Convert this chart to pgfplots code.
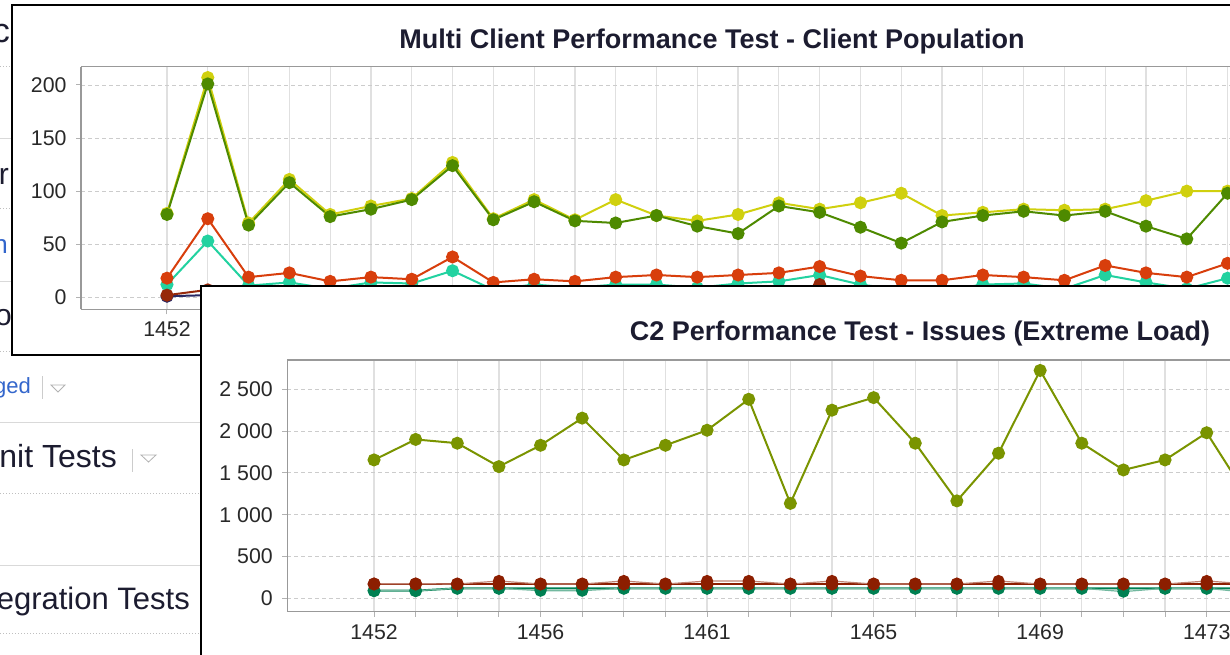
\documentclass[border=0pt]{standalone}
\usepackage{pgfplots}
\pgfplotsset{compat=1.18}
\usepackage{fontspec}
\setmainfont{Liberation Sans}
\definecolor{cyel}{RGB}{208,208,14}
\definecolor{cgrn}{RGB}{78,138,0}
\definecolor{cred}{RGB}{216,62,12}
\definecolor{ctur}{RGB}{34,210,160}
\definecolor{cdrd}{RGB}{150,40,10}
\definecolor{cnav}{RGB}{40,40,100}
\definecolor{coli}{RGB}{122,148,0}
\definecolor{cbrd}{RGB}{140,30,0}
\definecolor{ctea}{RGB}{0,128,82}
\definecolor{ctitle}{RGB}{28,28,48}
\definecolor{clink}{RGB}{51,102,204}
\definecolor{ctick}{RGB}{40,40,40}
\pgfplotsset{
  winaxis/.style={
    anchor=south west, scale only axis,
    axis x line*=box, axis y line*=left,
    axis line style={draw=black!40, line width=1.2pt, -},
    tick align=outside, major tick length=5pt,
    xtick pos=bottom, ytick pos=left,
    tick style={draw=black!30, line width=1pt},
    xmajorgrids, ymajorgrids,
    x grid style={draw=black!12, line width=1.2pt},
    y grid style={draw=black!20, line width=0.9pt, dash pattern=on 4pt off 3pt},
    tick label style={font=\fontsize{21.3}{24}\selectfont, text=ctick},
    xticklabel style={yshift=-4pt},
    yticklabel style={xshift=-6pt},
    every axis plot/.append style={line width=2pt, mark=*, mark size=5.5pt, mark options={solid}},
  }
}
\begin{document}
\begin{tikzpicture}[x=1pt,y=1pt]
\path[use as bounding box] (0,0) rectangle (1230,655);
\clip (0,0) rectangle (1230,655);
\fill[white] (0,0) rectangle (1230,655);
% background page fragments
\begin{scope}[line width=1pt]
\draw[black!25, dotted] (0,588) -- (12,588);
\draw[black!15] (0,516) -- (12,516);
\draw[black!25, dotted] (0,446) -- (12,446);
\draw[black!15] (0,373) -- (12,373);
\draw[black!25, dotted] (0,303) -- (201,303);
\draw[black!15] (0,232) -- (201,232);
\draw[black!25, dotted] (0,161) -- (201,161);
\draw[black!15] (0,89) -- (201,89);
\draw[black!25, dotted] (0,21) -- (201,21);
\end{scope}
\node[overlay, anchor=base east, inner sep=0pt, font=\fontsize{34}{40}\selectfont, text=ctitle] at (10,612) {c};
\node[overlay, anchor=base east, inner sep=0pt, font=\fontsize{30}{36}\selectfont, text=ctitle] at (9,470) {r};
\node[overlay, anchor=base east, inner sep=0pt, font=\fontsize{26}{30}\selectfont, text=clink] at (8,401) {n};
\node[overlay, anchor=base east, inner sep=0pt, font=\fontsize{30}{36}\selectfont, text=ctitle] at (12,329) {o};
\node[overlay, anchor=base east, inner sep=0pt, font=\fontsize{22}{26}\selectfont, text=clink] at (31,261) {ged};
\draw[black!20, line width=1pt] (42,256) -- (42,279);
\draw[black!30, line width=0.8pt] (51,270) -- (65,270) -- (58,263) -- cycle;
\node[overlay, anchor=base east, inner sep=0pt, font=\fontsize{32}{38}\selectfont, text=ctitle] at (117,187) {nit Tests};
\draw[black!20, line width=1pt] (132,183) -- (132,206);
\draw[black!30, line width=0.8pt] (141,200) -- (156,200) -- (148.5,193) -- cycle;
\node[overlay, anchor=base east, inner sep=0pt, font=\fontsize{31}{36}\selectfont, text=ctitle] at (190,45) {egration Tests};
% ---------------- top window ----------------
\fill[white] (12,300) rectangle (1230,650);
\begin{axis}[winaxis,
  at={(81pt,345.7pt)}, width=1149pt, height=242.6pt,
  xmin=-2.108, xmax=26.06, ymin=-11.3, ymax=217.2,
  xtick={0,...,26},
  xticklabels={1452},
  ytick={0,50,100,150,200}, yticklabels={0,50,100,150,200},
]
\addplot[ctur] coordinates {(0,12)(1,53)(2,11)(3,14)(4,8)(5,14)(6,13)(7,25)(8,7)(9,12)(10,9)(11,12)(12,12)(13,9)(14,13)(15,15)(16,21)(17,12)(18,7)(19,6)(20,12)(21,13)(22,8)(23,21)(24,14)(25,8)(26,18)};
\addplot[cred] coordinates {(0,18)(1,74)(2,19)(3,23)(4,15)(5,19)(6,17)(7,38)(8,14)(9,17)(10,15)(11,19)(12,21)(13,19)(14,21)(15,23)(16,29)(17,20)(18,16)(19,16)(20,21)(21,19)(22,16)(23,30)(24,23)(25,19)(26,32)};
\addplot[cnav] coordinates {(0,1)(1,2)(2,1)(3,1)(4,1)(5,1)(6,1)(7,2)(8,1)(9,1)(10,1)(11,1)(12,1)(13,1)(14,1)(15,1)(16,10)(17,1)(18,1)(19,1)(20,1)(21,1)(22,1)(23,5)(24,1)(25,1)(26,1)};
\addplot[cdrd] coordinates {(0,2)(1,7)(2,3)(3,4)(4,3)(5,3)(6,4)(7,5)(8,3)(9,3)(10,2)(11,3)(12,4)(13,3)(14,3)(15,4)(16,12)(17,3)(18,2)(19,3)(20,3)(21,3)(22,3)(23,5)(24,4)(25,3)(26,4)};
\addplot[cyel] coordinates {(0,79)(1,207)(2,70)(3,111)(4,78)(5,86)(6,93)(7,127)(8,74)(9,92)(10,73)(11,92)(12,77)(13,72)(14,78)(15,89)(16,83)(17,89)(18,98)(19,77)(20,80)(21,83)(22,82)(23,83)(24,91)(25,100)(26,100)};
\addplot[cgrn] coordinates {(0,78)(1,201)(2,68)(3,108)(4,76)(5,83)(6,92)(7,124)(8,73)(9,90)(10,72)(11,70)(12,77)(13,67)(14,60)(15,86)(16,80)(17,66)(18,51)(19,71)(20,77)(21,81)(22,77)(23,81)(24,67)(25,55)(26,98)};
\end{axis}
\draw[black, line width=2pt] (1231,650) -- (12,650) -- (12,300) -- (1231,300);
\node[font=\fontsize{27}{31}\selectfont\bfseries, text=ctitle] at (712,613) {Multi Client Performance Test - Client Population};
% ---------------- bottom window ----------------
\fill[white] (201,0) rectangle (1230,369);
\begin{axis}[winaxis,
  at={(287.3pt,43.3pt)}, width=942.7pt, height=251.7pt,
  xmin=-2.083, xmax=20.56, ymin=-160, ymax=2850,
  xtick={0,...,20},
  xticklabels={1452,,,,1456,,,,1461,,,,1465,,,,1469,,,,1473},
  ytick={0,500,1000,1500,2000,2500}, yticklabels={0,500,1 000,1 500,2 000,2 500},
]
\addplot[ctea] coordinates {(0,91)(1,91)(2,120)(3,120)(4,120)(5,120)(6,120)(7,120)(8,120)(9,120)(10,120)(11,120)(12,120)(13,120)(14,120)(15,120)(16,120)(17,120)(18,120)(19,120)(20,120)(21,120)};
\addplot[ctea!55, line width=1.2pt, mark options={fill=ctea, draw=ctea}] coordinates {(0,91)(1,91)(2,120)(3,120)(4,91)(5,91)(6,120)(7,120)(8,120)(9,120)(10,120)(11,120)(12,120)(13,120)(14,120)(15,120)(16,120)(17,120)(18,80)(19,120)(20,120)(21,70)};
\addplot[cbrd] coordinates {(0,171)(1,171)(2,171)(3,171)(4,171)(5,171)(6,171)(7,171)(8,171)(9,171)(10,171)(11,171)(12,171)(13,171)(14,171)(15,171)(16,171)(17,171)(18,171)(19,171)(20,171)(21,171)};
\addplot[cbrd!55, line width=1.2pt, mark options={fill=cbrd, draw=cbrd}] coordinates {(0,175)(1,175)(2,171)(3,207)(4,171)(5,171)(6,207)(7,171)(8,207)(9,207)(10,171)(11,207)(12,171)(13,171)(14,171)(15,207)(16,171)(17,171)(18,171)(19,171)(20,207)(21,171)};
\addplot[coli] coordinates {(0,1655)(1,1900)(2,1855)(3,1575)(4,1830)(5,2155)(6,1655)(7,1830)(8,2010)(9,2380)(10,1135)(11,2250)(12,2400)(13,1855)(14,1165)(15,1735)(16,2725)(17,1855)(18,1535)(19,1655)(20,1980)(21,1200)};
\end{axis}
\draw[black, line width=2pt] (201,-1) -- (201,369) -- (1231,369);
\node[font=\fontsize{27}{31}\selectfont\bfseries, text=ctitle] at (920,321) {C2 Performance Test - Issues (Extreme Load)};
\end{tikzpicture}
\end{document}
